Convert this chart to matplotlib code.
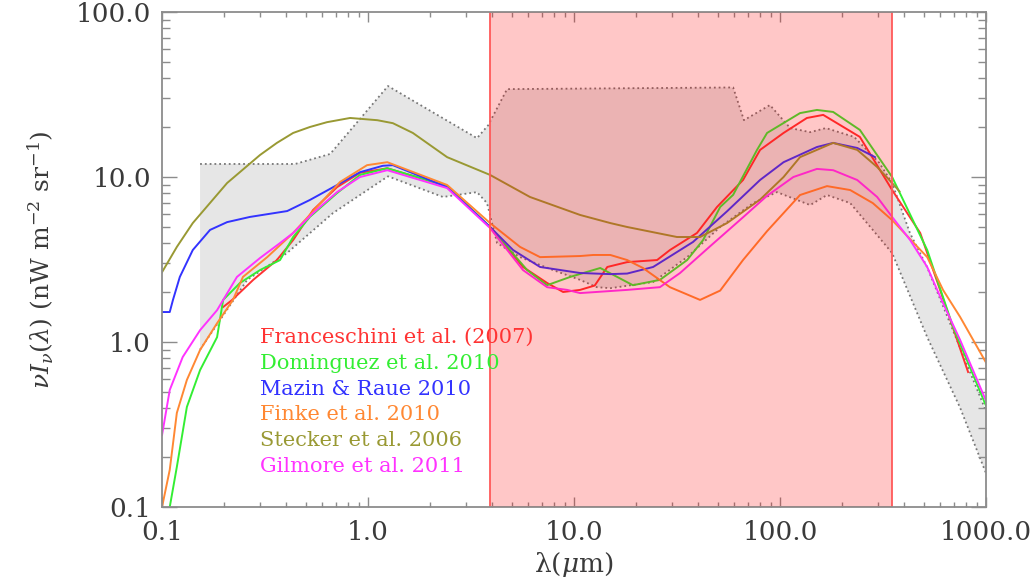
import matplotlib
matplotlib.use('Agg')
import matplotlib.pyplot as plt
import numpy as np
from matplotlib.ticker import LogLocator, FixedLocator, FixedFormatter, NullFormatter

# EBL model curves, wavelength [um] vs nu I_nu [nW m^-2 sr^-1]
fran_x = [0.198, 0.219, 0.277, 0.361, 0.433, 0.541, 0.708, 0.914, 1.24, 2.42, 3.91,
          5.65, 7.40, 8.85, 10.7, 12.6, 14.5, 18.1, 25.3, 29.2, 39.5, 49.4, 66.1, 80.0,
          104, 135, 162, 244, 350, 479, 598, 818]
fran_y = [1.63, 1.80, 2.38, 3.14, 4.15, 6.31, 8.69, 10.6, 11.3, 8.81, 4.98,
          2.85, 2.28, 2.01, 2.07, 2.20, 2.85, 3.05, 3.14, 3.61, 4.58, 6.58, 9.59, 14.6,
          18.5, 22.8, 23.8, 17.5, 8.34, 4.58, 2.07, 0.658]

dom_x = [0.109, 0.118, 0.132, 0.153, 0.185, 0.198, 0.239, 0.299, 0.374, 0.433, 0.522,
         0.708, 0.914, 1.24, 2.42, 3.91, 5.92, 7.40, 9.57, 13.4, 19.3, 26.1, 35.4,
         42.3, 51.2, 59.2, 77.3, 86.5, 125, 151, 181, 244, 350, 518, 692, 1000]
dom_y = [0.100, 0.175, 0.404, 0.676, 1.07, 1.80, 2.28, 2.73, 3.14, 4.33, 5.73,
         8.00, 10.3, 11.3, 8.81, 4.98, 2.73, 2.21, 2.48, 2.81, 2.21, 2.38, 3.14,
         4.15, 6.58, 7.8, 14.6, 18.5, 24.4, 25.5, 24.8, 19.3, 10.0, 3.61, 1.23, 0.41]

mazin_x = [0.100, 0.109, 0.113, 0.122, 0.141, 0.171, 0.207, 0.267, 0.405, 0.522, 0.708,
           0.914, 1.18, 1.32, 2.42, 3.91, 5.06, 6.84, 10.7, 15.0, 18.1, 24.2, 37.8,
           55.3, 80.0, 104, 151, 181, 237, 289]
mazin_y = [1.52, 1.52, 1.80, 2.48, 3.61, 4.78, 5.33, 5.73, 6.22, 7.26, 8.95,
           10.7, 11.7, 11.8, 8.69, 4.98, 3.61, 2.85, 2.62, 2.58, 2.60, 2.85, 4.04,
           6.2, 9.6, 12.3, 15.2, 16.1, 15.0, 13.2]

finke_x = [0.100, 0.109, 0.118, 0.132, 0.153, 0.185, 0.221, 0.247, 0.324, 0.433, 0.565,
           0.731, 0.989, 1.24, 2.42, 3.91, 5.47, 6.84, 10.7, 12.4, 15.0, 18.1, 21.6,
           29.2, 40.9, 51.2, 66.1, 86.5, 125, 169, 219, 282, 350, 518, 618, 748, 1000]
finke_y = [0.100, 0.168, 0.372, 0.589, 0.895, 1.30, 1.80, 2.48, 3.27, 4.58, 6.58,
           9.33, 11.8, 12.3, 8.95, 5.26, 3.77, 3.27, 3.32, 3.37, 3.37, 3.14, 2.81,
           2.15, 1.80, 2.05, 3.14, 4.7, 7.78, 8.81, 8.34, 6.95, 5.48, 3.27, 2.07, 1.42, 0.75]

steck_x = [0.100, 0.118, 0.141, 0.207, 0.299, 0.361, 0.433, 0.522, 0.632, 0.818, 1.11,
           1.32, 1.65, 2.42, 3.91, 6.11, 10.7, 15.0, 18.1, 31.6, 40.9, 55.3, 80.0,
           104, 125, 181, 237, 296, 350, 380]
steck_y = [2.65, 3.77, 5.26, 9.20, 13.6, 16.1, 18.5, 20.1, 21.5, 22.8, 22.1,
           21.2, 18.5, 13.2, 10.3, 7.57, 5.89, 5.26, 4.98, 4.33, 4.33, 5.26, 7.3,
           10.0, 13.2, 16.1, 14.6, 11.5, 9.20, 8.18]

gil_x = [0.100, 0.109, 0.126, 0.153, 0.185, 0.231, 0.299, 0.374, 0.433, 0.541, 0.708,
         0.914, 1.24, 2.42, 3.91, 5.65, 7.40, 9.25, 10.7, 18.1, 26.1, 32.7, 45.7,
         66.1, 86.5, 116, 151, 181, 237, 296, 350, 428, 518, 618, 748, 1000]
gil_y = [0.273, 0.512, 0.811, 1.18, 1.56, 2.48, 3.23, 3.98, 4.58, 6.05, 8.11,
         10.0, 11.0, 8.57, 4.91, 2.73, 2.15, 2.07, 1.98, 2.07, 2.15, 2.62, 3.80,
         5.70, 7.70, 10.0, 11.2, 11.0, 9.59, 7.57, 5.73, 4.15, 2.85, 1.72, 1.03, 0.44]

# limits band (upper / lower)
up_x = [0.153, 0.443, 0.655, 1.25, 3.38, 3.83, 4.73, 59.2, 66.8, 89.3, 112, 140,
        167, 229, 303, 350, 427, 517, 1000]
up_y = [12.0, 12.0, 13.8, 35.6, 17.2, 20.6, 34.1, 34.9, 22.1, 27.3, 19.8, 18.7,
        19.8, 17.5, 12.2, 9.2, 4.58, 2.85, 0.38]
lo_x = [0.153, 0.259, 0.404, 0.676, 1.25, 2.31, 3.38, 3.78, 4.23, 5.47, 7.91, 10.7,
        12.9, 15.0, 24.2, 35.4, 51.2, 74.0, 96.6, 140, 169, 219, 282, 350,
        518, 748, 1000]
lo_y = [0.90, 2.38, 3.46, 6.05, 10.1, 7.57, 8.1, 6.95, 3.98, 3.27, 2.73, 2.38,
        2.15, 2.12, 2.31, 3.27, 4.98, 6.95, 8.1, 6.76, 7.78, 6.95, 4.78, 3.46,
        1.07, 0.40, 0.16]

span_lo, span_hi = 3.9, 350.0

models = [
    ('Franceschini et al. (2007)', fran_x, fran_y, '#ff3333'),
    ('Dominguez et al. 2010', dom_x, dom_y, '#33ee33'),
    ('Mazin & Raue 2010', mazin_x, mazin_y, '#3333ff'),
    ('Finke et al. 2010', finke_x, finke_y, '#ff8833'),
    ('Stecker et al. 2006', steck_x, steck_y, '#999933'),
    ('Gilmore et al. 2011', gil_x, gil_y, '#ff33ff'),
]

plt.rcParams['font.family'] = 'DejaVu Serif'
plt.rcParams['mathtext.fontset'] = 'dejavuserif'

fig = plt.figure(figsize=(10.36, 5.84), dpi=100)
ax = fig.add_axes([0.1564, 0.1318, 0.7954, 0.8476])
ax.set_xscale('log')
ax.set_yscale('log')
ax.set_xlim(0.1, 1000)
ax.set_ylim(0.1, 100)

# grey band of limits
px = list(up_x) + list(lo_x[::-1])
py = list(up_y) + list(lo_y[::-1])
ax.fill(px, py, color='#e6e6e6', lw=0, zorder=1)
ax.plot(up_x, up_y, ls=':', color='#777777', lw=1.3, zorder=1.5)
ax.plot(lo_x, lo_y, ls=':', color='#777777', lw=1.3, zorder=1.5)

for name, x, y, c in models:
    ax.plot(x, y, color=c, lw=1.4, zorder=2)

ax.axvspan(span_lo, span_hi, facecolor=(1, 0, 0, 0.22),
           edgecolor=(1, 0.35, 0.35, 1), lw=1.3, zorder=3)

for i, (name, x, y, c) in enumerate(models):
    ax.text(0.119, 0.331 - i * 0.052, name, color=c, fontsize=15,
            transform=ax.transAxes, va='baseline', zorder=4)

ticks = [0.1, 1.0, 10.0, 100.0, 1000.0]
ax.xaxis.set_major_locator(FixedLocator(ticks))
ax.xaxis.set_major_formatter(FixedFormatter(['0.1', '1.0', '10.0', '100.0', '1000.0']))
ax.yaxis.set_major_locator(FixedLocator(ticks[:4]))
ax.yaxis.set_major_formatter(FixedFormatter(['0.1', '1.0', '10.0', '100.0']))
for a in (ax.xaxis, ax.yaxis):
    a.set_minor_locator(LogLocator(base=10, subs=np.arange(2, 10)))
    a.set_minor_formatter(NullFormatter())

for s in ax.spines.values():
    s.set_color('#8c8c8c')
    s.set_linewidth(1.3)
    s.set_zorder(5)
ax.tick_params(which='both', direction='in', top=True, right=True,
               color='#8c8c8c', width=1.0, labelcolor='#3a3a3a', labelsize=19)
ax.tick_params(axis='x', which='major', length=7, pad=9)
ax.tick_params(axis='x', which='minor', length=3.5)
ax.tick_params(axis='y', which='major', length=11, pad=8)
ax.tick_params(axis='y', which='minor', length=6)

ax.set_xlabel(r'λ($\mu$m)', fontsize=19, color='#3a3a3a', labelpad=4)
ax.set_ylabel(r'$\nu I_\nu(\lambda)$ (nW m$^{-2}$ sr$^{-1}$)', fontsize=18,
              color='#3a3a3a', labelpad=14)

plt.savefig('out.png', dpi=100)
